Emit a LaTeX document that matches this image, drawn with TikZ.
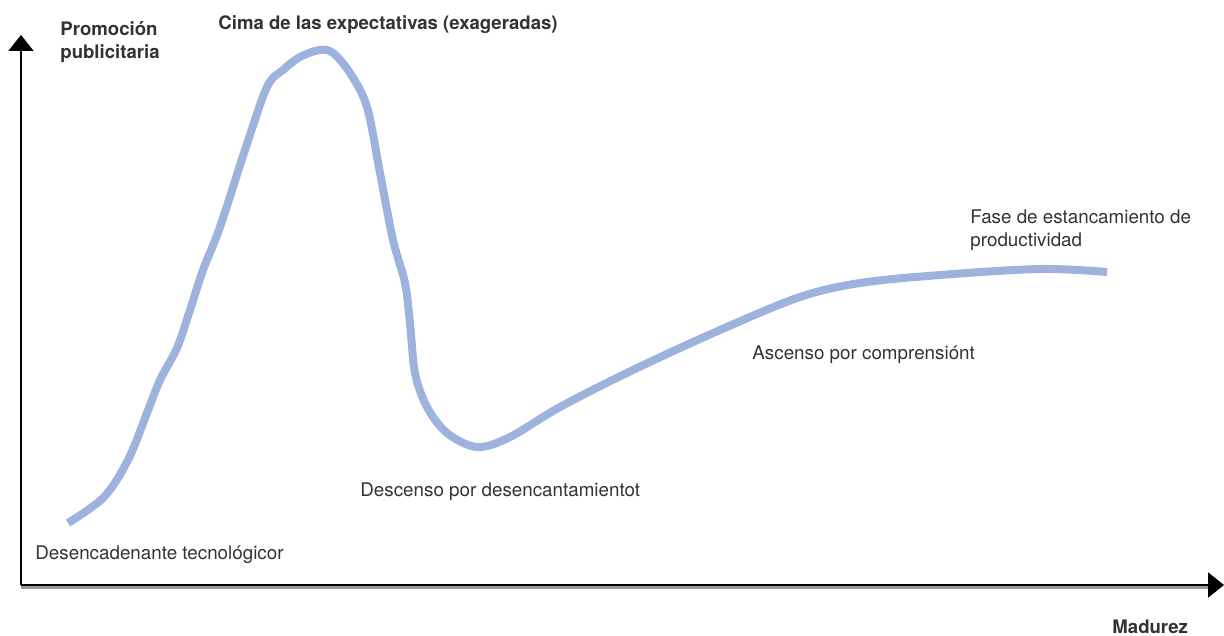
\documentclass[tikz,border=0pt]{standalone}
\usepackage{fontspec}
\setmainfont{TeX Gyre Heros}
\usetikzlibrary{arrows.meta}

\definecolor{curva}{HTML}{9DB3DE}
\definecolor{texto}{HTML}{333333}
\tikzset{
  etiqueta/.style={anchor=base west, inner sep=0pt, text=texto,
    font=\fontsize{9.4}{11.5}\selectfont, align=left},
  titulo/.style={etiqueta, font=\bfseries\fontsize{9.3}{11.5}\selectfont},
  eje/.style={line width = 1pt, black, -{Triangle[length=8pt, width=12.5pt]}}
}

\begin{document}
\begin{tikzpicture}[x=0.5pt, y=-0.5pt]
    \useasboundingbox (0,0) rectangle (1224,636);
    % ejes
    \coordinate (O) at (21,585);
    \coordinate (Y) at (21,35);
    \coordinate (X) at (1224,585);
    \draw [line width = 1.2pt, black!40] ([yshift=-1.2pt]O) -- ([yshift=-1.2pt]1208,585);
    \draw [eje] (O) -- (X);
    \draw [eje] (O) -- (Y);
    % curva
    \draw [curva, line width = 4pt, line join=round]
      plot [smooth, tension=0.55] coordinates {
        (68,523) (104,497) (128,460) (147,413) (160,380)
        (177,348) (190,310) (203,270) (220,227) (245,150) (267,87)
        (283,70) (300,57) (320,50) (333,53) (350,73) (367,107)
        (380,173) (393,240) (405,283) (410,323) (415,373) (427,407)
        (447,433) (477,447) (510,437) (560,407) (633,370) (720,330)
        (800,297) (860,283) (940,275) (1040,269) (1107,272)};
    % textos (base = ultima linea)
    \node [titulo] (promo) at (60,59) {Promoción\\publicitaria};
    \node [titulo] (cima) at (218,30) {Cima de las expectativas (exageradas)};
    \node [titulo] (madurez) at (1112,633) {Madurez};
    \node [etiqueta] (trigger) at (35,559) {Desencadenante tecnológicor};
    \node [etiqueta] (descenso) at (360,496) {Descenso por desencantamientot};
    \node [etiqueta] (ascenso) at (752,359) {Ascenso por comprensiónt};
    \node [etiqueta] (meseta) at (970,246) {Fase de estancamiento de\\productividad};
\end{tikzpicture}
\end{document}
